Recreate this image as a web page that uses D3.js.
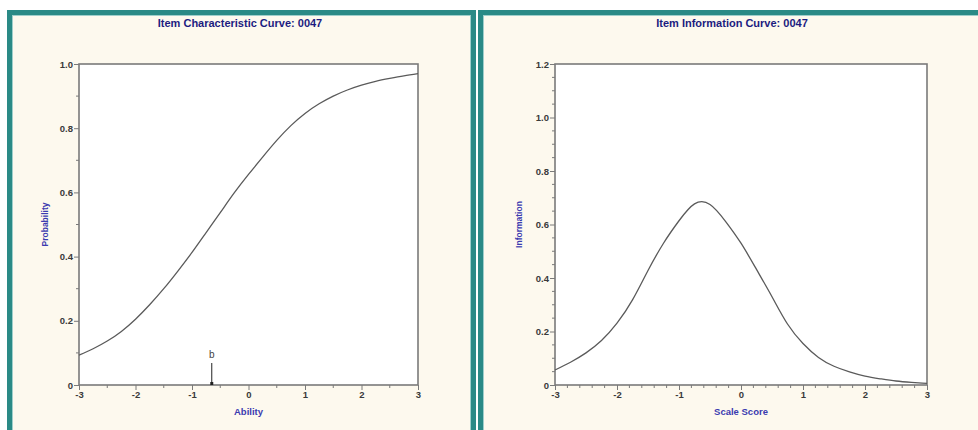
<!DOCTYPE html>
<html><head><meta charset="utf-8">
<script src="https://cdn.jsdelivr.net/npm/d3@7"></script>
<style>
html,body{margin:0;padding:0;background:#ffffff;}
svg{display:block;}
text{font-family:"Liberation Sans",Arial,sans-serif;}
</style></head>
<body>
<svg id="c" width="978" height="430"></svg>
<script>
// ---- data ----
const iccTheta = [-3,-2.75,-2.5,-2.25,-2,-1.75,-1.5,-1.25,-1,-0.75,-0.5,-0.25,0,0.25,0.5,0.75,1,1.25,1.5,1.75,2,2.25,2.5,2.75,3];
const iccProb  = [0.093,0.113,0.137,0.167,0.205,0.250,0.300,0.355,0.413,0.475,0.537,0.599,0.656,0.710,0.762,0.808,0.846,0.876,0.900,0.919,0.934,0.946,0.955,0.963,0.970];
const infoTheta = [-3,-2.75,-2.5,-2.25,-2,-1.75,-1.5,-1.25,-1,-0.75,-0.5,-0.25,0,0.25,0.5,0.75,1,1.25,1.5,1.75,2,2.25,2.5,2.75,3];
const infoValue = [0.056,0.085,0.120,0.166,0.231,0.318,0.428,0.530,0.614,0.677,0.675,0.612,0.530,0.432,0.330,0.228,0.155,0.103,0.070,0.049,0.033,0.023,0.015,0.010,0.006];
const bParam = -0.65;
const xTickVals = [-3,-2,-1,0,1,2,3];
const xTickLabels = ["-3","-2","-1","0","1","2","3"];
const yTicksLeft = [0,0.2,0.4,0.6,0.8,1.0];
const yTicksLeftLabels = ["0","0.2","0.4","0.6","0.8","1.0"];
const yTicksRight = [0,0.2,0.4,0.6,0.8,1.0,1.2];
const yTicksRightLabels = ["0","0.2","0.4","0.6","0.8","1.0","1.2"];
const titles = ["Item Characteristic Curve: 0047","Item Information Curve: 0047"];
const xTitles = ["Ability","Scale Score"];
const yTitles = ["Probability","Information"];

const svg = d3.select("#c");
const teal = "#2a8a86", cream = "#fdf9ee", frame = "#7a7a7a", curveCol = "#5a5a5a";
const titleCol = "#1c1c80", axisTitleCol = "#3b3bb0", labelCol = "#3a3a3a";

function panel(x0, x1){
  const g = svg.append("g");
  g.append("rect").attr("x",x0).attr("y",10).attr("width",x1-x0).attr("height",440)
    .attr("fill",cream).attr("stroke","none");
  g.append("rect").attr("x",x0+2.5).attr("y",12.5).attr("width",x1-x0-5).attr("height",440)
    .attr("fill","none").attr("stroke",teal).attr("stroke-width",5);
  g.append("rect").attr("x",x0+5.5).attr("y",15.5).attr("width",x1-x0-11).attr("height",440)
    .attr("fill","none").attr("stroke","#9fcfcb").attr("stroke-width",1);
  return g;
}

function chart(opts){
  const {left,right,top,bottom,yMax,yTicks,yLabels,yMinorStep,xMinorStep,theta,vals,title,xTitle,yTitle,titleX,yTitleX} = opts;
  const x = d3.scaleLinear().domain([-3,3]).range([left,right]);
  const y = d3.scaleLinear().domain([0,yMax]).range([bottom,top]);
  const g = svg.append("g");
  g.append("rect").attr("x",left).attr("y",top).attr("width",right-left).attr("height",bottom-top)
    .attr("fill","#ffffff");
  const xMinor = d3.range(-3, 3+1e-9, xMinorStep).filter(v=>Math.abs(v-Math.round(v))>1e-6);
  g.selectAll(".xm").data(xMinor).join("line")
    .attr("x1",d=>x(d)).attr("x2",d=>x(d)).attr("y1",bottom).attr("y2",bottom+3)
    .attr("stroke",frame).attr("stroke-width",1);
  const yMinor = d3.range(0, yMax+1e-9, yMinorStep).filter(v=>yTicks.every(t=>Math.abs(t-v)>1e-6));
  g.selectAll(".ym").data(yMinor).join("line")
    .attr("x1",left-3).attr("x2",left).attr("y1",d=>y(d)).attr("y2",d=>y(d))
    .attr("stroke",frame).attr("stroke-width",1);
  const xAxis = d3.axisBottom(x).tickValues(xTickVals).tickFormat((d,i)=>xTickLabels[i]).tickSize(5).tickPadding(1);
  const gx = g.append("g").attr("transform",`translate(0,${bottom})`).call(xAxis);
  const yAxis = d3.axisLeft(y).tickValues(yTicks).tickFormat((d,i)=>yLabels[i]).tickSize(5).tickPadding(1);
  const gy = g.append("g").attr("transform",`translate(${left},0)`).call(yAxis);
  [gx,gy].forEach(a=>{
    a.select(".domain").remove();
    a.selectAll(".tick line").attr("stroke",frame).attr("stroke-width",1);
    a.selectAll(".tick text").attr("fill",labelCol).attr("font-size",9.5).attr("font-weight","bold");
  });
  g.append("rect").attr("x",left).attr("y",top).attr("width",right-left).attr("height",bottom-top)
    .attr("fill","none").attr("stroke",frame).attr("stroke-width",1.6);
  const line = d3.line().x((d,i)=>x(theta[i])).y(d=>y(d)).curve(d3.curveNatural);
  g.append("path").attr("d",line(vals)).attr("fill","none").attr("stroke",curveCol).attr("stroke-width",1.3);
  g.append("text").attr("x",titleX).attr("y",27).attr("text-anchor","middle")
    .attr("font-size",11).attr("font-weight","bold").attr("fill",titleCol).text(title);
  g.append("text").attr("x",(left+right)/2).attr("y",415).attr("text-anchor","middle")
    .attr("font-size",9.5).attr("font-weight","bold").attr("fill",axisTitleCol).text(xTitle);
  g.append("text").attr("transform",`translate(${yTitleX},${(top+bottom)/2}) rotate(-90)`)
    .attr("text-anchor","middle").attr("font-size",8.5).attr("font-weight","bold").attr("fill",axisTitleCol).text(yTitle);
  return {x,y,g};
}

panel(7,476);
panel(478,990);

const c1 = chart({left:79,right:418,top:64,bottom:385,yMax:1.0,yTicks:yTicksLeft,yLabels:yTicksLeftLabels,
  yMinorStep:0.1,xMinorStep:0.5,theta:iccTheta,vals:iccProb,title:titles[0],xTitle:xTitles[0],yTitle:yTitles[0],titleX:240,yTitleX:48});
const c2 = chart({left:555,right:927,top:64,bottom:385,yMax:1.2,yTicks:yTicksRight,yLabels:yTicksRightLabels,
  yMinorStep:0.05,xMinorStep:0.2,theta:infoTheta,vals:infoValue,title:titles[1],xTitle:xTitles[1],yTitle:yTitles[1],titleX:732,yTitleX:522});

const bx = c1.x(bParam);
c1.g.append("line").attr("x1",bx).attr("x2",bx).attr("y1",c1.y(0)-22).attr("y2",c1.y(0))
  .attr("stroke","#222").attr("stroke-width",1);
c1.g.append("rect").attr("x",bx-1.5).attr("y",c1.y(0)-3).attr("width",3).attr("height",3).attr("fill","#222");
c1.g.append("text").attr("x",bx).attr("y",c1.y(0)-27).attr("text-anchor","middle")
  .attr("font-size",10).attr("fill","#444").text("b");
</script>
</body></html>
